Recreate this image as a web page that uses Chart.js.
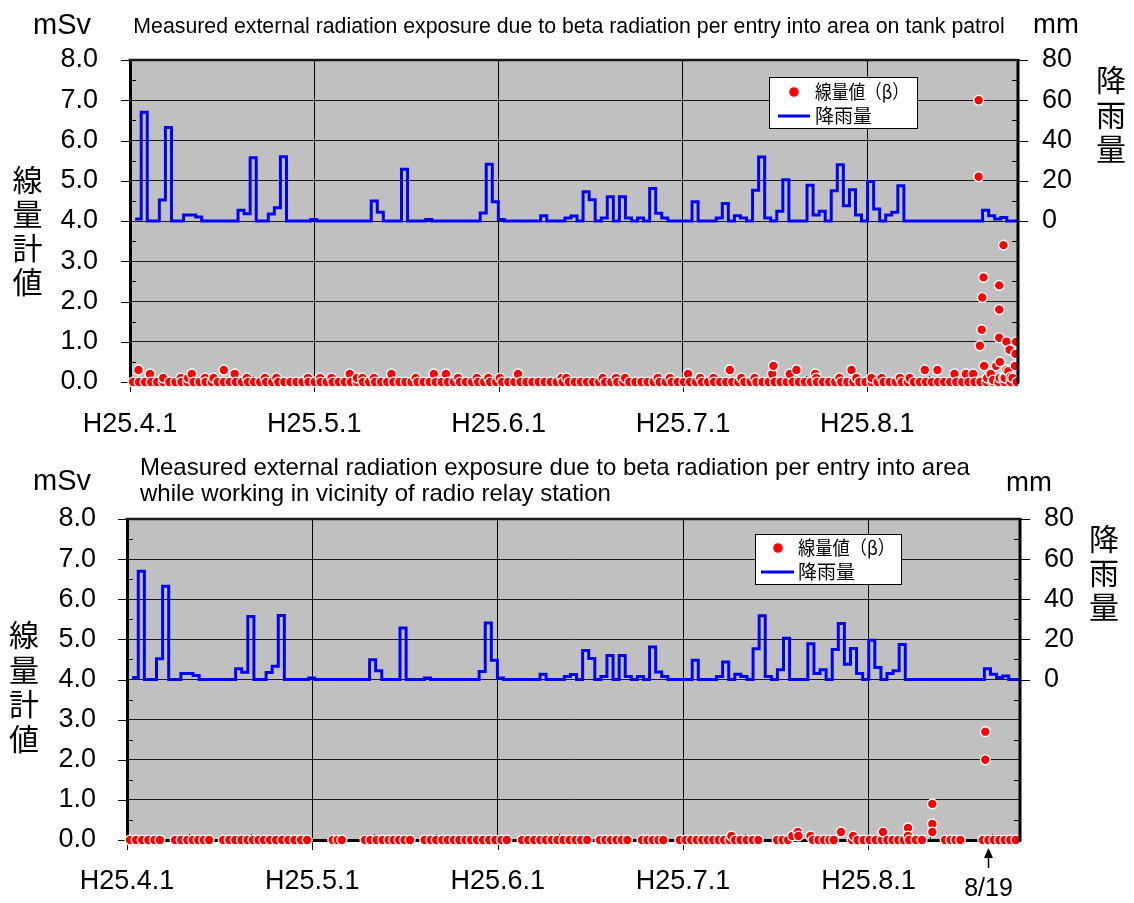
<!DOCTYPE html>
<html><head><meta charset="utf-8">
<script src="https://cdn.jsdelivr.net/npm/chart.js@4/dist/chart.umd.min.js"></script>
<style>
html,body{margin:0;padding:0;background:#fff;}
#wrap{position:relative;width:1134px;height:903px;overflow:hidden;}
canvas{position:absolute;left:0;display:block;}
</style></head><body>
<div id="wrap">
<canvas id="c1" width="1134" height="450" style="top:0"></canvas>
<canvas id="c2" width="1134" height="453" style="top:450px"></canvas>
</div>
<script>
// ---------------- data ----------------
const monthLabels = ['H25.4.1','H25.5.1','H25.6.1','H25.7.1','H25.8.1'];
const monthTickDays = [0, 30.45, 60.9, 91.35, 121.8];
const DAY_MAX = 146.7;
const ARROW_DAY = 141.4;       // 8/19 marker
const ARROW_LABEL = '8/19';

// daily rainfall (mm), from H25.4.1
const rainfall = [1,54,0,0,10.4,46.5,0,0,3,3,
 2,0,0,0,0,0,0,5.4,3.6,31.4,
 0,0,3.5,6.6,31.9,0,0,0,0,0.8,
 0,0,0,0,0,0,0,0,0,9.9,
 4.3,0,0,0,25.7,0,0,0,0.7,0,
 0,0,0,0,0,0,0,4,28.2,9.6,
 0.7,0,0,0,0,0,0,2.6,0,0,
 0,1.5,2.5,0,14.5,10.5,0,1.5,12,0,
 12,1.5,0,1.5,0,16.2,3.8,1.5,0,0,
 0,0,9.6,0,0,0,1.5,8.7,0,2.6,
 1.5,0,15.3,31.8,1.5,0,4.8,20.5,0,0,
 0,17.8,3,4.8,0,15,27.9,7.6,15.5,3,
 0,19.6,6,0,3,4.3,17.5,0,0,0,
 0,0,0,0,0,0,0,0,0,0,
 5.4,2.6,1,1.8,0,0];

// tank patrol: readings at 0.0 mSv (day positions)
const tankZeroDays = [0.5,1.5,2.5,3.5,4.5,5.5,6.5,7.5,8.5,9.5,10.5,11.5,12.5,13.5,14.5,15.5,16.5,17.5,18.5,19.5,
 20.5,21.5,22.5,23.5,24.5,25.5,26.5,27.5,28.5,29.5,30.5,31.5,32.5,33.5,34.5,35.5,36.5,37.5,38.5,39.5,
 40.5,41.5,42.5,43.5,44.5,45.5,46.5,47.5,48.5,49.5,50.5,51.5,52.5,53.5,54.5,55.5,56.5,57.5,58.5,59.5,
 60.5,61.5,62.5,63.5,64.5,65.5,66.5,67.5,68.5,69.5,70.5,71.5,72.5,73.5,74.5,75.5,76.5,77.5,78.5,79.5,
 80.5,81.5,82.5,83.5,84.5,85.5,86.5,87.5,88.5,89.5,90.5,91.5,92.5,93.5,94.5,95.5,96.5,97.5,98.5,99.5,
 100.5,101.5,102.5,103.5,104.5,105.5,106.5,107.5,108.5,109.5,110.5,111.5,112.5,113.5,114.5,115.5,116.5,117.5,118.5,119.5,
 120.5,121.5,122.5,123.5,124.5,125.5,126.5,127.5,128.5,129.5,130.5,131.5,132.5,133.5,134.5,135.5,136.5,137.5,138.5,139.5,
 140.5,141.5,142.5,143.5,144.5,145.5,146.5];
// tank patrol: readings above 0
const tankDoseDays = [1.4,3.3,5.5,8.4,9.6,10.2,12.4,13.8,15.5,17.3,19.3,22.3,24.2,29.4,31.4,33.3,36.3,37.5,38.4,40.3,
 43.2,47.2,50.2,52.2,54.2,57.3,59.2,61.1,64.1,71.3,72.1,78.1,80.3,81.8,87.2,89.2,92.2,94.2,96.4,99.1,
 101.0,103.2,106.1,106.3,109.0,110.1,113.2,113.4,117.2,119.2,120.0,122.5,124.2,127.2,128.8,131.3,133.4,136.2,138.1,139.3,
 140.2,140.2,140.4,140.7,140.8,141.0,141.1,141.6,142.2,142.6,143.1,143.6,143.6,143.6,143.7,143.7,144.3,144.3,144.5,144.8,
 144.8,145.1,145.3,145.5,145.8,146.2,146.3,146.4];
const tankDoseVals = [0.3,0.2,0.1,0.1,0.1,0.2,0.1,0.1,0.3,0.2,0.1,0.1,0.1,0.1,0.1,0.1,0.2,0.1,0.1,0.1,
 0.2,0.1,0.2,0.2,0.1,0.1,0.1,0.1,0.2,0.1,0.1,0.1,0.1,0.1,0.1,0.1,0.2,0.1,0.1,0.3,
 0.1,0.1,0.2,0.4,0.2,0.3,0.2,0.1,0.1,0.3,0.1,0.1,0.1,0.1,0.1,0.3,0.3,0.2,0.2,0.2,
 7.0,5.1,0.9,1.3,2.1,2.6,0.4,0.1,0.2,0.05,0.4,2.4,1.8,1.1,0.5,0.1,3.4,0.1,0.1,1.0,
 0.3,0.27,0.8,0.13,0.1,0.4,0.7,1.0];

// radio relay station: readings at 0.0 mSv
const relayZeroDays = [0.5,1.5,2.5,3.5,4.5,5.4,
 7.9,8.9,9.9,10.8,11.7,12.6,13.5,
 15.8,16.8,17.8,18.8,19.8,20.7,21.6,22.5,23.5,24.5,25.5,26.5,27.5,28.6,29.6,
 33.8,34.6,35.3,
 39.1,40,41,42,43,43.8,44.7,45.6,46.5,
 48.9,49.9,50.8,51.8,52.7,53.7,54.6,55.6,56.5,57.5,58.5,59.5,60.5,61.5,62.4,
 64.9,65.9,66.9,67.9,68.8,69.8,70.7,71.7,72.7,73.7,74.6,75.6,
 77.7,78.6,79.5,80.4,81.3,82.2,
 84.6,85.5,86.4,87.3,88.1,
 90.8,91.8,92.7,93.6,94.5,95.4,96.3,97.2,98.1,99.0,99.9,100.8,101.8,102.8,103.7,
 106.8,107.7,108.6,
 112.7,113.6,114.5,115.4,116.1,
 119.1,120.0,121.0,122.0,123.0,124.0,124.9,125.8,126.7,127.6,128.5,129.6,130.6,
 134.4,135.3,136.1,136.9,
 140.6,141.5,142.4,143.3,144.2,145.1,146.0];
const relayDoseDays = [99.3,109.3,110.2,110.3,112.3,117.3,119.3,124.2,128.3,128.3,132.3,132.3,132.3,141.0,141.0];
const relayDoseVals = [0.1,0.1,0.2,0.1,0.1,0.2,0.1,0.2,0.3,0.1,0.9,0.4,0.2,2.7,2.0];

const doseLabel = '線量値（β）';
const rainLabel = '降雨量';
const titleTank = 'Measured external radiation exposure due to beta radiation per entry into area on tank patrol';
const titleRelay = ['Measured external radiation exposure due to beta radiation per entry into area',
                    'while working in vicinity of radio relay station'];
const leftUnit = 'mSv', rightUnit = 'mm';
const leftTitle = '線量計値', rightTitle = '降雨量';

// ---------------- helpers ----------------
const LAT = '"Liberation Sans", Arial, sans-serif';
const CJK = '"Noto Sans CJK JP", sans-serif';
const RAIN_SHIFT = 0.85;

function dosePoints(zeroDays, days, vals) {
  const pts = zeroDays.map(d => ({x: d, y: 0}))
    .concat(days.map((d, i) => ({x: d, y: vals[i]})));
  pts.sort((a, b) => a.x - b.x);
  return pts;
}
function rainPoints(r) {
  const pts = r.map((v, i) => ({x: i + RAIN_SHIFT, y: v}));
  pts.push({x: r.length + RAIN_SHIFT, y: r[r.length - 1]});
  return pts;
}

const decorPlugin = {
  id: 'decor',
  beforeDraw(chart) {
    const {ctx, chartArea: a} = chart;
    ctx.save();
    ctx.fillStyle = '#C0C0C0';
    ctx.fillRect(a.left, a.top, a.right - a.left, a.bottom - a.top);
    ctx.restore();
  },
  beforeDatasetsDraw(chart) {
    const {ctx, chartArea: a, scales: {x, y, y2}} = chart;
    ctx.save();
    ctx.strokeStyle = '#000';
    ctx.lineWidth = 1;
    ctx.beginPath();
    for (let v = 0; v <= 8; v += 0.5) {
      const py = Math.round(y.getPixelForValue(v)) + 0.5;
      if (v % 1 === 0) { ctx.moveTo(a.left - 9, py); ctx.lineTo(a.left, py); }
      else { ctx.moveTo(a.left, py); ctx.lineTo(a.left + 6, py); }
    }
    for (let v = -80; v <= 80; v += 10) {
      const py = Math.round(y2.getPixelForValue(v)) + 0.5;
      if (v % 20 !== 0) { ctx.moveTo(a.right - 6, py); ctx.lineTo(a.right, py); }
      else if (v >= 0) { ctx.moveTo(a.right, py); ctx.lineTo(a.right + 10, py); }
    }
    const step = monthTickDays[1] - monthTickDays[0];
    monthTickDays.forEach(d => {
      const px = Math.round(x.getPixelForValue(d)) + 0.5;
      ctx.moveTo(px, a.bottom); ctx.lineTo(px, a.bottom + 10);
      for (let k = 1; k < 3; k++) {
        const dd = d + k * step / 3;
        if (dd < DAY_MAX) {
          const mx = Math.round(x.getPixelForValue(dd)) + 0.5;
          ctx.moveTo(mx, a.bottom); ctx.lineTo(mx, a.bottom - 6);
        }
      }
    });
    ctx.stroke();
    ctx.restore();
  },
  afterDatasetsDraw(chart) {
    const {ctx, chartArea: a} = chart;
    ctx.save();
    ctx.strokeStyle = '#000';
    ctx.lineWidth = 3;
    ctx.beginPath(); ctx.moveTo(a.right, a.top - 1); ctx.lineTo(a.right, a.bottom + 1.5); ctx.stroke();
    ctx.strokeStyle = '#1a1a1a';
    ctx.lineWidth = 2.5;
    ctx.beginPath(); ctx.moveTo(a.left - 1.5, a.top); ctx.lineTo(a.right + 1.5, a.top); ctx.stroke();
    ctx.restore();
  },
  afterDraw(chart, args, o) {
    const ctx = chart.ctx;
    ctx.save();
    ctx.fillStyle = '#000';
    ctx.textBaseline = 'middle';
    (o.texts || []).forEach(t => {
      ctx.font = t.font; ctx.textAlign = t.align || 'center';
      ctx.fillText(t.t, t.x, t.y);
    });
    (o.vtexts || []).forEach(t => {
      ctx.font = t.font; ctx.textAlign = 'center';
      Array.from(t.t).forEach((ch, i) => ctx.fillText(ch, t.x, t.y0 + i * t.dy));
    });
    const L = o.legend;
    if (L) {
      ctx.fillStyle = '#fff';
      ctx.fillRect(L.x, L.y, L.w, L.h);
      ctx.strokeStyle = '#000'; ctx.lineWidth = 1;
      ctx.strokeRect(L.x + 0.5, L.y + 0.5, L.w, L.h);
      ctx.fillStyle = '#FF0000';
      ctx.beginPath(); ctx.arc(L.dotX, L.row1, 4.8, 0, Math.PI * 2); ctx.fill();
      ctx.strokeStyle = '#0000FF'; ctx.lineWidth = 3;
      ctx.beginPath(); ctx.moveTo(L.lineX0, L.row2); ctx.lineTo(L.lineX1, L.row2); ctx.stroke();
      ctx.fillStyle = '#000';
      ctx.font = '19px ' + CJK; ctx.textAlign = 'left';
      ctx.fillText(chart.data.datasets[0].label, L.textX, L.row1, L.textW);
      ctx.fillText(chart.data.datasets[1].label, L.textX, L.row2);
    }
    if (o.arrow) {
      const xs = chart.scales.x;
      const px = Math.round(xs.getPixelForValue(o.arrow.day)) + 0.5;
      ctx.strokeStyle = '#000'; ctx.lineWidth = 1.5;
      ctx.beginPath(); ctx.moveTo(px, o.arrow.y0 + 6); ctx.lineTo(px, o.arrow.y1); ctx.stroke();
      ctx.fillStyle = '#000';
      ctx.beginPath(); ctx.moveTo(px, o.arrow.y0); ctx.lineTo(px - 4.5, o.arrow.y0 + 10); ctx.lineTo(px + 4.5, o.arrow.y0 + 10); ctx.closePath(); ctx.fill();
      ctx.font = '25px ' + LAT; ctx.textAlign = 'center';
      ctx.fillText(o.arrow.label, px, o.arrow.ty);
    }
    ctx.restore();
  }
};

function makeChart(id, L, pts) {
  const tickFont = {family: LAT, size: 27};
  return new Chart(document.getElementById(id), {
    type: 'scatter',
    data: {datasets: [
      {label: doseLabel, data: pts, yAxisID: 'y', backgroundColor: '#FF0000', borderColor: '#FFFFFF',
       borderWidth: 1.4, pointRadius: 4.9, pointHoverRadius: 4.9, clip: {left: 8, top: 8, right: 0, bottom: 8}},
      {label: rainLabel, type: 'line', data: rainPoints(rainfall), yAxisID: 'y2', borderColor: '#0000FF',
       backgroundColor: '#0000FF', borderWidth: 3, pointRadius: 0, stepped: true, showLine: true, fill: false}
    ]},
    options: {
      responsive: false, animation: false, devicePixelRatio: 1, events: [],
      layout: {padding: {top: L.top, left: 0, right: L.padRight, bottom: L.padBottom}},
      plugins: {legend: {display: false}, tooltip: {enabled: false}, decor: L.decor},
      scales: {
        x: {type: 'linear', min: 0, max: DAY_MAX,
            afterBuildTicks: s => { s.ticks = monthTickDays.map(v => ({value: v})); },
            afterFit: s => { s.height = 60; },
            ticks: {callback: (v, i) => monthLabels[i], font: tickFont, color: '#000', padding: L.xPad,
                    maxRotation: 0, minRotation: 0, autoSkip: false},
            grid: {color: '#000', lineWidth: 1, drawTicks: false},
            border: {display: true, color: '#000', width: 3}},
        y: {position: 'left', min: 0, max: 8,
            afterFit: s => { s.width = L.left; },
            ticks: {stepSize: 1, callback: v => v.toFixed(1), font: tickFont, color: '#000', padding: L.yPad},
            grid: {color: '#1a1a1a', lineWidth: 1, drawTicks: false},
            border: {display: true, color: '#000', width: 3}},
        y2: {position: 'right', min: -80, max: 80,
            afterFit: s => { s.width = 60; },
            ticks: {stepSize: 20, callback: v => (v >= 0 ? String(v) : null), font: tickFont, color: '#000', padding: 24},
            grid: {display: false, drawTicks: false},
            border: {display: false}}
      }
    },
    plugins: [decorPlugin]
  });
}

makeChart('c1', {
  top: 60, padRight: 56, padBottom: 8, left: 130, xPad: 26, yPad: 32,
  decor: {
    texts: [
      {t: leftUnit, x: 62, y: 26, font: '29px ' + LAT},
      {t: titleTank, x: 569, y: 27, font: '21.3px ' + LAT},
      {t: rightUnit, x: 1056, y: 25, font: '27.5px ' + LAT}
    ],
    vtexts: [
      {t: leftTitle, x: 27.5, y0: 180, dy: 34, font: '30px ' + CJK},
      {t: rightTitle, x: 1111, y0: 80, dy: 34.5, font: '30px ' + CJK}
    ],
    legend: {x: 769, y: 77, w: 148, h: 51, dotX: 794, row1: 92, row2: 116, lineX0: 778, lineX1: 810, textX: 815, textW: 94}
  }
}, dosePoints(tankZeroDays, tankDoseDays, tankDoseVals));

makeChart('c2', {
  top: 69, padRight: 54, padBottom: 3, left: 127, xPad: 25, yPad: 31,
  decor: {
    texts: [
      {t: leftUnit, x: 62, y: 32, font: '29px ' + LAT},
      {t: titleRelay[0], x: 140, y: 18, font: '24px ' + LAT, align: 'left'},
      {t: titleRelay[1], x: 140, y: 44, font: '24px ' + LAT, align: 'left'},
      {t: rightUnit, x: 1029, y: 33, font: '27.5px ' + LAT}
    ],
    vtexts: [
      {t: leftTitle, x: 24, y0: 185, dy: 34.5, font: '30px ' + CJK},
      {t: rightTitle, x: 1104, y0: 89, dy: 34, font: '30px ' + CJK}
    ],
    legend: {x: 755, y: 84, w: 146, h: 50, dotX: 778, row1: 98, row2: 122, lineX0: 761, lineX1: 794, textX: 798, textW: 97},
    arrow: {day: ARROW_DAY, label: ARROW_LABEL, y0: 398, y1: 418, ty: 439}
  }
}, dosePoints(relayZeroDays, relayDoseDays, relayDoseVals));
</script>
</body></html>
